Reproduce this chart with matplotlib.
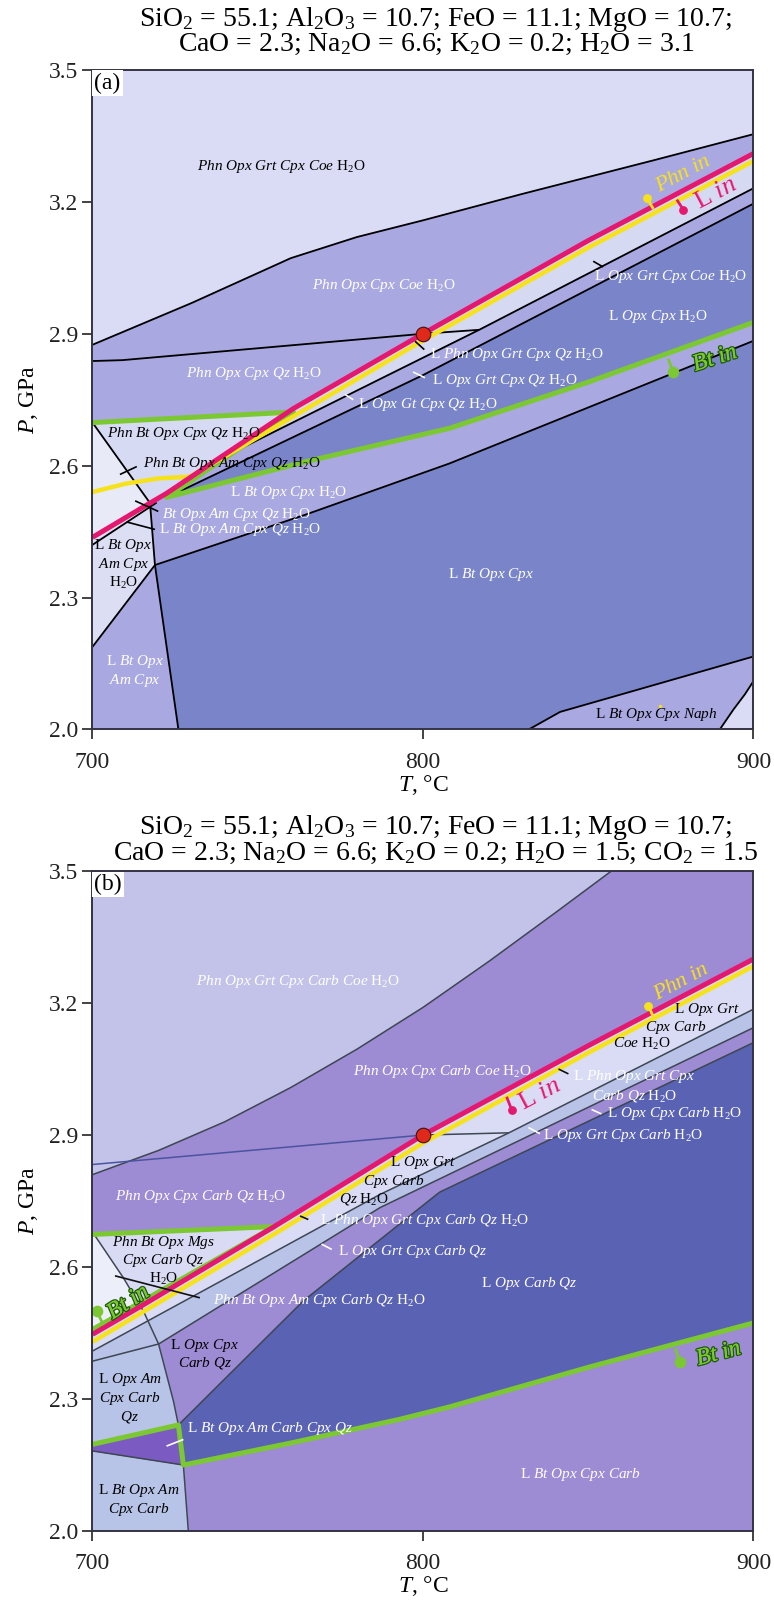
import matplotlib
matplotlib.use("Agg")
import matplotlib.pyplot as plt
import matplotlib.patheffects as pe

plt.rcParams["font.family"] = ["Liberation Serif", "DejaVu Serif"]
plt.rcParams["mathtext.fontset"] = "custom"
plt.rcParams["mathtext.rm"] = "Liberation Serif"
plt.rcParams["mathtext.it"] = "Liberation Serif:italic"
plt.rcParams["mathtext.bf"] = "Liberation Serif:bold"

# ---------------- panel (a): field boundaries, (T degC, P GPa) ----------------
a_top = [(700, 2.875), (730, 2.97), (760, 3.072), (780, 3.12), (800, 3.158), (830, 3.218), (870, 3.295), (900, 3.354)]
a_hor = [(700, 2.838), (709, 2.840), (800, 2.900), (817, 2.909)]
a_pink = [(700, 2.437), (717.4, 2.515), (722.4, 2.537), (760.8, 2.730), (800, 2.900), (850, 3.112), (900, 3.310)]
a_yel_r = [(729.5, 2.575), (740, 2.621), (761, 2.713), (800, 2.885), (850, 3.096), (900, 3.293)]
a_yel_l = [(700, 2.540), (710, 2.559), (720, 2.571), (729.5, 2.575)]
a_grn = [(700, 2.698), (760.8, 2.722), (722.4, 2.528), (765, 2.610), (808, 2.685), (850, 2.790), (900, 2.926)]
a_l1 = [(740, 2.621), (787, 2.797), (817, 2.909), (900, 3.231)]
a_l2 = [(726.5, 2.542), (800, 2.806), (900, 3.196)]
a_l3 = [(718.9, 2.374), (765, 2.490), (808, 2.605), (900, 2.884)]
a_diag = [(700, 2.698), (717.4, 2.515)]
a_bl = [(700, 2.420), (719.4, 2.516)]
a_vert = [(717.4, 2.515), (718.9, 2.374), (726, 2.0)]
a_ll = [(700, 2.188), (718.9, 2.374)]
a_naph = [(832, 2.0), (841.5, 2.040), (871.7, 2.105), (900, 2.166)]
a_corner = [(889.8, 2.0), (893.9, 2.045), (897.4, 2.080), (900, 2.110)]

a_labels = [
    ("Phn Opx Grt Cpx Coe H2O", 757, 3.28, "k", "center"),
    ("Phn Opx Cpx Coe H2O", 788, 3.01, "w", "center"),
    ("Phn Opx Cpx Qz H2O", 749, 2.81, "w", "center"),
    ("L Opx Grt Cpx Coe H2O", 875, 3.03, "w", "center"),
    ("L Opx Cpx H2O", 871, 2.94, "w", "center"),
    ("L Phn Opx Grt Cpx Qz H2O", 802, 2.853, "w", "left"),
    ("L Opx Grt Cpx Qz H2O", 802.6, 2.793, "w", "left"),
    ("L Opx Gt Cpx Qz H2O", 780.4, 2.739, "w", "left"),
    ("Phn Bt Opx Cpx Qz H2O", 704.5, 2.674, "k", "left"),
    ("Phn Bt Opx Am Cpx Qz H2O", 715.4, 2.606, "k", "left"),
    ("Bt Opx Am Cpx Qz H2O", 721, 2.490, "w", "left"),
    ("L Bt Opx Am Cpx Qz H2O", 720, 2.455, "w", "left"),
    ("L Bt Opx Cpx H2O", 759.5, 2.54, "w", "center"),
    ("L Bt Opx\nAm Cpx\nH2O", 709.3, 2.377, "k", "center"),
    ("L Bt Opx\nAm Cpx", 712.7, 2.133, "w", "center"),
    ("L Bt Opx Cpx", 820.7, 2.353, "w", "center"),
    ("L Bt Opx Cpx Naph", 870.6, 2.035, "k", "center"),
]
a_ticks_k = [[(708.3, 2.580), (713.4, 2.598)], [(712.9, 2.520), (719.9, 2.496)],
             [(710.3, 2.472), (718.9, 2.455)], [(797.6, 2.883), (800.4, 2.864)],
             [(851.5, 3.065), (854.5, 3.052)]]
a_ticks_w = [[(797.0, 2.813), (800.6, 2.800)], [(776.4, 2.762), (778.9, 2.750)]]
a_markers = {  # name: (label centre, rotation, dot, stick end)
    "Phn": ((878.7, 3.262), 28, (867.7, 3.209), (869.7, 3.184)),
    "L": ((888.5, 3.218), 28, (878.8, 3.182), (876.8, 3.205)),
    "Bt": ((888.5, 2.843), 18, (875.7, 2.813), (874.2, 2.843)),
}

# ---------------- panel (b) ----------------
b_top = [(700, 2.81), (720, 2.865), (740, 2.93), (760, 3.008), (780, 3.095), (800, 3.19),
         (820, 3.295), (840, 3.405), (857, 3.5)]
b_hor = [(700, 2.833), (800, 2.900)]
b_hor2 = [(800, 2.900), (826, 2.905)]
b_pink = [(700, 2.447), (714, 2.508), (755, 2.692), (800, 2.900), (850, 3.103), (900, 3.300)]
b_yel = [(700, 2.430), (755, 2.675), (800, 2.882), (850, 3.087), (900, 3.284)]
b_grn_top = [(700, 2.674), (755, 2.692), (700, 2.458)]
b_grn_low = [(700, 2.197), (726, 2.241), (727.5, 2.150), (760, 2.200), (793, 2.254), (808, 2.282),
             (850, 2.372), (900, 2.473)]
b_la = [(700, 2.409), (787, 2.765), (826, 2.905), (900, 3.186)]
b_lb = [(700, 2.386), (720, 2.425), (787, 2.735), (900, 3.144)]
b_lc = [(805, 2.770), (900, 3.110)]
b_steep = [(726, 2.241), (763.8, 2.523), (805, 2.770)]
b_am = [(700.5, 2.674), (709.3, 2.576), (714, 2.517), (715.4, 2.500), (720, 2.425),
        (724.5, 2.295), (726, 2.241), (727.5, 2.150), (729, 2.0)]
b_gray = [(700, 2.182), (727.5, 2.150)]

b_labels = [
    ("Phn Opx Grt Cpx Carb Coe H2O", 762, 3.25, "w", "center"),
    ("Phn Opx Cpx Carb Coe H2O", 806, 3.045, "w", "center"),
    ("Phn Opx Cpx Carb Qz H2O", 732.8, 2.761, "w", "center"),
    ("Phn Bt Opx Mgs\nCpx Carb Qz\nH2O", 721.4, 2.615, "k", "center"),
    ("Phn Bt Opx Am Cpx Carb Qz H2O", 736.6, 2.525, "w", "left"),
    ("L Opx Grt", 800, 2.837, "k", "center"),
    ("Cpx Carb", 791, 2.795, "k", "center"),
    ("Qz H2O", 782, 2.754, "k", "center"),
    ("L Phn Opx Grt Cpx", 845.5, 3.032, "w", "left"),
    ("Carb Qz H2O", 864, 2.989, "w", "center"),
    ("L Opx Grt", 886, 3.186, "k", "center"),
    ("Cpx Carb", 876.3, 3.144, "k", "center"),
    ("Coe H2O", 866.1, 3.106, "k", "center"),
    ("L Opx Cpx Carb H2O", 855.6, 2.948, "w", "left"),
    ("L Opx Grt Cpx Carb H2O", 836.4, 2.900, "w", "left"),
    ("L Phn Opx Grt Cpx Carb Qz H2O", 768.8, 2.705, "w", "left"),
    ("L Opx Grt Cpx Carb Qz", 774.4, 2.636, "w", "left"),
    ("L Opx Carb Qz", 832, 2.562, "w", "center"),
    ("L Opx Cpx\nCarb Qz", 734, 2.402, "k", "center"),
    ("L Opx Am\nCpx Carb\nQz", 711.3, 2.302, "k", "center"),
    ("L Bt Opx Am Carb Cpx Qz", 728.5, 2.233, "w", "left"),
    ("L Bt Opx Am\nCpx Carb", 714.1, 2.070, "k", "center"),
    ("L Bt Opx Cpx Carb", 847.6, 2.129, "w", "center"),
]
b_ticks_k = [[(841, 3.050), (844, 3.039)], [(762.8, 2.716), (765.3, 2.708)],
             [(706.8, 2.580), (732.5, 2.530)]]
b_ticks_w = [[(769.3, 2.652), (772.4, 2.640)], [(851, 2.958), (854, 2.948)],
             [(831.9, 2.917), (835.4, 2.903)], [(722.4, 2.193), (727.5, 2.208)]]
b_markers = {
    "Phn": ((878.3, 3.247), 28, (868.2, 3.193), (869.7, 3.169)),
    "L": ((835.4, 2.992), 28, (826.8, 2.958), (825.3, 2.987)),
    "Bt": ((711, 2.519), 33, (701.3, 2.500), (703.3, 2.468)),
    "Bt2": ((889.6, 2.402), 15, (877.8, 2.383), (876.3, 2.415)),
}

title_a = ["SiO$_2$ = 55.1; Al$_2$O$_3$ = 10.7; FeO = 11.1; MgO = 10.7;",
           "CaO = 2.3; Na$_2$O = 6.6; K$_2$O = 0.2; H$_2$O = 3.1"]
title_b = ["SiO$_2$ = 55.1; Al$_2$O$_3$ = 10.7; FeO = 11.1; MgO = 10.7;",
           "CaO = 2.3; Na$_2$O = 6.6; K$_2$O = 0.2; H$_2$O = 1.5; CO$_2$ = 1.5"]

PINK, YEL, GRN = "#e5186f", "#f6e21c", "#7cc832"


def lab(s):
    out = []
    for line in s.split("\n"):
        parts = []
        for w in line.split():
            if w == "L":
                parts.append("L")
            elif w == "H2O":
                parts.append("H$_2$O")
            else:
                parts.append(r"$\mathit{" + w + "}$")
        out.append(" ".join(parts))
    return "\n".join(out)


def fill(ax, pts, c):
    xs, ys = zip(*pts)
    ax.fill(xs, ys, color=c, lw=0.6, ec=c, zorder=1)


def line(ax, pts, c, lw, z=2):
    xs, ys = zip(*pts)
    ax.plot(xs, ys, color=c, lw=lw, zorder=z, solid_capstyle="butt", solid_joinstyle="round")


def setup(ax, letter):
    ax.set_xlim(700, 900)
    ax.set_ylim(2.0, 3.5)
    ax.set_xticks([700, 800, 900])
    ax.set_yticks([2.0, 2.3, 2.6, 2.9, 3.2, 3.5])
    ax.set_yticklabels(["2.0", "2.3", "2.6", "2.9", "3.2", "3.5"])
    ax.tick_params(direction="out", length=7, width=1.2, labelsize=17, colors="#222222")
    ax.tick_params(axis="x", pad=9)
    for s in ax.spines.values():
        s.set_linewidth(1.4)
        s.set_color("#333344")
        s.set_zorder(10)
    ax.set_xlabel("$\\mathit{T}$, °C", fontsize=17, labelpad=0)
    ax.set_ylabel("$\\mathit{P}$, GPa", fontsize=17, labelpad=6)
    ax.text(0.003, 0.996, "(" + letter + ")", transform=ax.transAxes, fontsize=17, va="top", ha="left",
            zorder=12, bbox=dict(facecolor="white", edgecolor="none", pad=1.5))


def labels(ax, items, ticks_k, ticks_w, tcol_k):
    for txt, t, p, c, ha in items:
        ax.text(t, p, lab(txt), color="black" if c == "k" else "white", fontsize=11, ha=ha,
                va="center", zorder=8, linespacing=1.15)
    for seg in ticks_k:
        line(ax, seg, tcol_k, 1.2, 7)
    for seg in ticks_w:
        line(ax, seg, "white", 1.2, 7)


def markers(ax, mk):
    for name, (pos, rot, dot, stick) in mk.items():
        if name == "Phn":
            col, txt, fs, fx = YEL, r"$\mathit{Phn\ in}$", 16, []
        elif name == "L":
            col, txt, fs, fx = PINK, r"L $\mathit{in}$", 19, []
        else:
            col, txt, fs, fx = GRN, r"$\mathit{Bt\ in}$", 17, [pe.withStroke(linewidth=2, foreground="#1f5a10")]
        line(ax, [dot, stick], col, 2.0, 6)
        ax.scatter([dot[0]], [dot[1]], s=70 if col == GRN else 40, color=col, zorder=6, lw=0)
        t = ax.text(pos[0], pos[1], txt, color=col, fontsize=fs, rotation=rot, ha="center",
                    va="center", zorder=8, rotation_mode="anchor")
        if fx:
            t.set_path_effects(fx[::-1] + [pe.Normal()])


fig = plt.figure(figsize=(7.74, 16.05), dpi=100)
axa = fig.add_axes([0.1195, 0.5455, 0.854, 0.4109])
axb = fig.add_axes([0.1195, 0.0461, 0.854, 0.4112])

# ---- panel (a) fields
axa.set_facecolor("#d9dcf4")
fill(axa, a_top + a_pink[3:][::-1] + a_grn[:2][::-1], "#aaa8e0")
fill(axa, a_grn[:2] + a_pink[1:4][::-1], "#d7daf3")
fill(axa, a_diag + a_pink[:2][::-1], "#e8eaf8")
fill(axa, a_pink[2:] + a_l1[::-1] + a_l2[:1], "#d6d9f2")
fill(axa, a_l1 + a_l2[::-1], "#aaa8e0")
fill(axa, a_l2 + a_grn[2:][::-1], "#7985c8")
fill(axa, a_grn[2:] + a_l3[::-1] + a_vert[:1], "#aaa8e0")
fill(axa, a_pink[:2] + a_vert[1:2] + a_ll[:1], "#dcdff4")
fill(axa, a_ll + a_vert[2:] + [(700, 2.0)], "#aaa8e0")
fill(axa, a_l3 + a_naph[::-1] + a_vert[2:], "#7985c8")
fill(axa, a_naph + a_corner[::-1], "#aaa8e0")
fill(axa, a_corner + [(900, 2.0)], "#d9dcf4")

for c in [a_top, a_hor, a_l1, a_l2, a_l3, a_diag, a_bl, a_vert, a_ll, a_naph, a_corner]:
    line(axa, c, "black", 1.3)
line(axa, a_grn, GRN, 3.6, 3)
line(axa, a_yel_l, YEL, 3.2, 3.1)
line(axa, a_yel_r, YEL, 3.2, 3.1)
line(axa, a_pink, PINK, 3.6, 3.2)
axa.scatter([800], [2.9], s=110, color="#e0281b", edgecolor="#401010", lw=0.8, zorder=5)
axa.scatter([871.7], [2.054], s=6, color=YEL, zorder=5, lw=0)
labels(axa, a_labels, a_ticks_k, a_ticks_w, "black")
markers(axa, a_markers)
setup(axa, "a")

# ---- panel (b) fields
axb.set_facecolor("#c3c3ea")
fill(axb, b_top + [(900, 3.5)] + b_pink[2:][::-1] + b_grn_top[:2][::-1], "#9d8bd4")
fill(axb, b_grn_top, "#d8dbf3")
fill(axb, b_grn_top[:1] + b_am[:3] + b_grn_top[2:], "#eceef9")
fill(axb, b_pink + b_la[::-1], "#d9dcf4")
fill(axb, b_la + b_lb[::-1], "#b8c3e7")
fill(axb, b_lb + [(900, 2.0), (700, 2.0)], "#9d8bd4")
fill(axb, b_lb[:2] + b_am[5:] + [(700, 2.0)], "#b8c4e7")
fill(axb, b_steep + b_lc[1:] + b_grn_low[2:][::-1], "#5a62b4")
fill(axb, b_grn_low[:3] + b_gray[::-1], "#7b5bc2")

for c in [b_top, b_la, b_lb, b_lc, b_steep, b_am, b_gray, b_hor2]:
    line(axb, c, "#3e4753", 1.1)
line(axb, b_hor, "#4b549e", 1.1)
line(axb, b_grn_top, GRN, 3.6, 3)
line(axb, b_grn_low, GRN, 3.6, 3)
line(axb, b_yel, YEL, 3.2, 3.1)
line(axb, b_pink, PINK, 3.6, 3.2)
axb.scatter([800], [2.9], s=110, color="#e0281b", edgecolor="#401010", lw=0.8, zorder=5)
labels(axb, b_labels, b_ticks_k, b_ticks_w, "#111111")
markers(axb, b_markers)
setup(axb, "b")

for i, s in enumerate(title_a):
    fig.text(0.563, 1 - (19 + 25 * i) / 1605, s, fontsize=20, ha="center", va="center")
for i, s in enumerate(title_b):
    fig.text(0.563, 1 - (828 + 25 * i) / 1605, s, fontsize=20, ha="center", va="center")

fig.savefig("out.png", dpi=100)
